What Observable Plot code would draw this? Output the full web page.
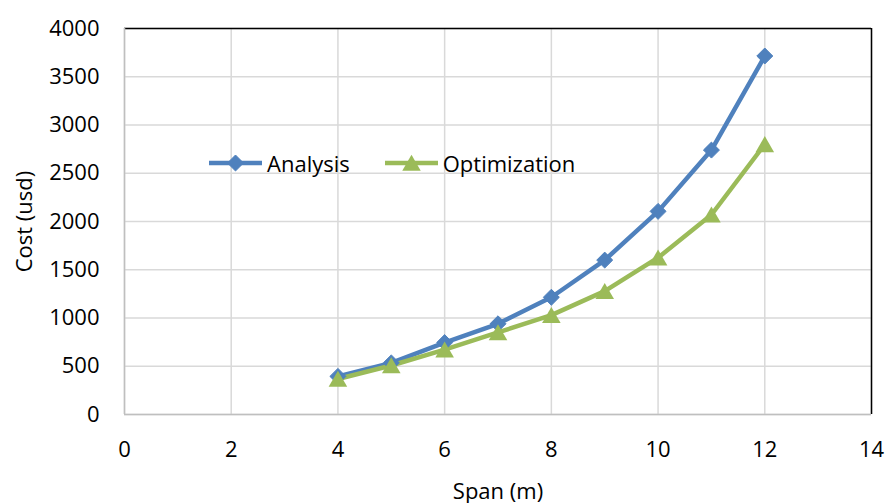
<!DOCTYPE html>
<html>
<head>
<meta charset="utf-8">
<script src="https://cdn.jsdelivr.net/npm/d3@7"></script>
<script src="https://cdn.jsdelivr.net/npm/@observablehq/plot@0.6"></script>
<style>
  body { margin: 0; background: #fff; }
  #chart { position: relative; width: 885px; height: 503px; font-family: "Open Sans", sans-serif; }
  #legend { position: absolute; left: 208px; top: 148px; display: flex; align-items: center; font-size: 22px; color: #000; }
  #legend .item { display: flex; align-items: center; margin-right: 34px; }
  #legend svg { display: block; margin-right: 4px; }
</style>
</head>
<body>
<div id="chart"><div id="legend"></div></div>
<script>
const span = [4, 5, 6, 7, 8, 9, 10, 11, 12];
const analysis = [395, 535, 745, 940, 1215, 1600, 2105, 2740, 3715];
const optimization = [368, 508, 672, 850, 1030, 1278, 1625, 2070, 2800];
const seriesNames = ["Analysis", "Optimization"];
const seriesColors = ["#4f81bd", "#9bbb59"];
const xTicks = [0, 2, 4, 6, 8, 10, 12, 14];
const yTicks = [0, 500, 1000, 1500, 2000, 2500, 3000, 3500, 4000];
const xLabel = "Span (m)";
const yLabel = "Cost (usd)";

const dataA = span.map((s, i) => ({ span: s, cost: analysis[i] }));
const dataO = span.map((s, i) => ({ span: s, cost: optimization[i] }));

const chart = Plot.plot({
  width: 885,
  height: 503,
  marginLeft: 124,
  marginRight: 14,
  marginTop: 28,
  marginBottom: 89,
  style: { fontFamily: "'Open Sans', sans-serif", fontSize: "22px", color: "#000", background: "#fff" },
  x: { domain: [0, 14] },
  y: { domain: [0, 4000] },
  marks: [
    Plot.gridX(xTicks, { stroke: "#d9d9d9", strokeOpacity: 1, strokeWidth: 1.5 }),
    Plot.gridY(yTicks, { stroke: "#d9d9d9", strokeOpacity: 1, strokeWidth: 1.5 }),
    Plot.ruleY([4000], { stroke: "#000", strokeWidth: 1.5 }),
    Plot.ruleX([14], { stroke: "#000", strokeWidth: 1.5 }),
    Plot.ruleX([0], { stroke: "#bfbfbf", strokeWidth: 1.5 }),
    Plot.ruleY([0], { stroke: "#bfbfbf", strokeWidth: 1.5 }),
    Plot.axisX(xTicks, { tickSize: 0, tickPadding: 27, tickFormat: d => String(d), label: xLabel, labelAnchor: "center", labelArrow: "none", labelOffset: 84, fontSize: 22 }),
    Plot.axisY(yTicks, { tickSize: 0, tickPadding: 25, tickFormat: d => String(d), label: yLabel, labelAnchor: "center", labelArrow: "none", labelOffset: 108, fontSize: 22 }),
    Plot.line(dataA, { x: "span", y: "cost", stroke: seriesColors[0], strokeWidth: 4.5 }),
    Plot.line(dataO, { x: "span", y: "cost", stroke: seriesColors[1], strokeWidth: 4.5 }),
    Plot.dot(dataA, { x: "span", y: "cost", symbol: "diamond2", r: 7.2, fill: seriesColors[0], stroke: seriesColors[0], strokeWidth: 1 }),
    Plot.dot(dataO, { x: "span", y: "cost", symbol: "triangle", r: 6.9, fill: seriesColors[1], stroke: "none", dy: 2.5 })
  ]
});
document.getElementById("chart").prepend(chart);

// legend
const legend = d3.select("#legend");
seriesNames.forEach((name, i) => {
  const item = legend.append("div").attr("class", "item");
  const svg = item.append("svg").attr("width", 55).attr("height", 20);
  svg.append("line").attr("x1", 1).attr("x2", 54).attr("y1", 10).attr("y2", 10)
    .attr("stroke", seriesColors[i]).attr("stroke-width", 4.5);
  const sym = i === 0 ? d3.symbol(d3.symbolDiamond2, 163) : d3.symbol(d3.symbolTriangle, 148);
  svg.append("path").attr("d", sym()).attr("transform", `translate(27.5,${i === 0 ? 10 : 12.5})`)
    .attr("fill", seriesColors[i]).attr("stroke", i === 0 ? seriesColors[i] : "none");
  item.append("span").text(name);
});
</script>
</body>
</html>
